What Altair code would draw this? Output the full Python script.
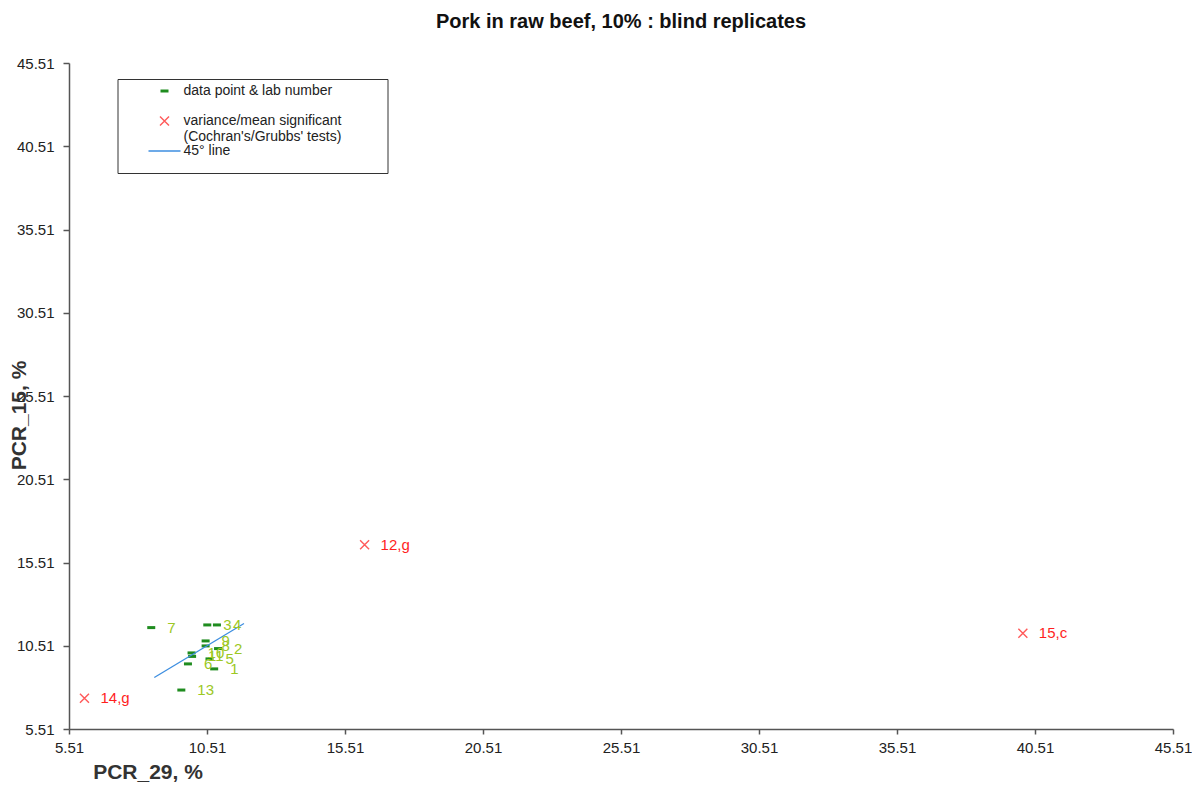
import altair as alt
import pandas as pd

# ---- data ----
labs = ["1", "2", "3", "4", "5", "6", "7", "8", "9", "10", "11", "13", "12,g", "14,g", "15,c"]
pcr29 = [10.77, 10.91, 10.52, 10.87, 10.60, 9.82, 8.49, 10.46, 10.46, 9.95, 9.97, 9.58, 16.22, 6.07, 40.07]
pcr15 = [9.12, 10.34, 11.76, 11.76, 9.72, 9.42, 11.60, 10.50, 10.80, 10.08, 9.87, 7.85, 16.57, 7.35, 11.26]
CAT_G = "data point & lab number"
CAT_R = "variance/mean significant"
CAT_L = "45° line"
kinds = [CAT_G] * 12 + [CAT_R] * 3
line_x = [8.6, 11.85]
line_y = [8.6, 11.85]
tick_vals = [5.51, 10.51, 15.51, 20.51, 25.51, 30.51, 35.51, 40.51, 45.51]

GREEN = "#1f8c1f"
GREEN_TXT = "#9cc824"
RED = "#ff5a5a"
RED_TXT = "#ff1f1f"
BLUE = "#3d8ee0"
FONT = "Liberation Sans"

df = pd.DataFrame({"x": pcr29, "y": pcr15, "lab": labs, "kind": kinds})
df["label_color"] = df["kind"].map({CAT_G: GREEN_TXT, CAT_R: RED_TXT})
line_df = pd.DataFrame({"x": line_x, "y": line_y})

DASH = "M-0.8,-0.3L0.8,-0.3L0.8,0.3L-0.8,0.3Z"
CROSS = "M-0.8,-1L1,0.8L0.8,1L-1,-0.8ZM-1,0.8L0.8,-1L1,-0.8L-0.8,1Z"
LINE = "M-3.2,-0.13L3.2,-0.13L3.2,0.13L-3.2,0.13Z"

xscale = alt.Scale(domain=[5.51, 45.51], nice=False, zero=False)
yscale = alt.Scale(domain=[5.51, 45.51], nice=False, zero=False)

xaxis = alt.Axis(values=tick_vals, format=".2f", title="PCR_29, %", titleX=78.5, titleY=43,
                 titleAlign="center", titleBaseline="middle", grid=False, labelFlush=False)
yaxis = alt.Axis(values=tick_vals, format=".2f", title="PCR_15, %", titleX=-50, titleY=352,
                 titleAngle=270, titleAlign="center", titleBaseline="middle", grid=False,
                 labelFlush=False)

NB = "\u00a0"
BLANK = "\u2800"
spacer = BLANK + NB * 46 + BLANK
label_expr = (
    "datum.label == 'variance/mean significant' ? "
    "['variance/mean significant', \"(Cochran's/Grubbs' tests)\"] : "
    "datum.label == 'data point & lab number' ? "
    "['data point & lab number', '" + spacer + "'] : datum.label"
)

legend = alt.Legend(
    title=NB, titleOrient="bottom", titleFontSize=8, titlePadding=2,
    orient="none", legendX=48.5, legendY=16,
    strokeColor="#333", fillColor="white", padding=5,
    symbolSize=100, symbolOffset=35, labelOffset=12, symbolStrokeWidth=0,
    labelFont=FONT, labelFontSize=14, labelColor="#222", labelLimit=500,
    rowPadding=0, labelExpr=label_expr,
)

points = alt.Chart(df).mark_point(filled=True, opacity=1, size=100, strokeWidth=0).encode(
    x=alt.X("x:Q", scale=xscale, axis=xaxis),
    y=alt.Y("y:Q", scale=yscale, axis=yaxis),
    color=alt.Color("kind:N", scale=alt.Scale(domain=[CAT_G, CAT_R, CAT_L], range=[GREEN, RED, BLUE]),
                    legend=legend),
    shape=alt.Shape("kind:N", scale=alt.Scale(domain=[CAT_G, CAT_R, CAT_L], range=[DASH, CROSS, LINE]),
                    legend=legend),
)

line = alt.Chart(line_df).mark_line(color=BLUE, strokeWidth=1.3).encode(
    x=alt.X("x:Q", scale=xscale),
    y=alt.Y("y:Q", scale=yscale),
)

labels = alt.Chart(df).mark_text(align="left", baseline="middle", dx=16, font=FONT, fontSize=15).encode(
    x=alt.X("x:Q", scale=xscale),
    y=alt.Y("y:Q", scale=yscale),
    text="lab:N",
    color=alt.Color("label_color:N", scale=None),
)

chart = alt.layer(points, line, labels).properties(
    width=1104, height=666,
    title=alt.TitleParams(text="Pork in raw beef, 10% : blind replicates", font=FONT, fontSize=20,
                          fontWeight="bold", color="#111", anchor="middle", offset=24),
    padding={"left": 61, "top": 55, "right": 19, "bottom": 57},
    autosize=alt.AutoSizeParams(type="none"),
).configure_view(stroke=None).configure_axis(
    domainColor="#555", domainWidth=1.5, tickColor="#555", tickWidth=1.5,
    labelFont=FONT, labelFontSize=15, labelColor="#222",
    titleFont=FONT, titleFontSize=21, titleFontWeight="bold", titleColor="#333",
).configure_axisX(labelPadding=6, tickSize=5).configure_axisY(labelPadding=9, tickSize=6)

chart.save("out.html", embed_options={"renderer": "svg", "actions": False})
